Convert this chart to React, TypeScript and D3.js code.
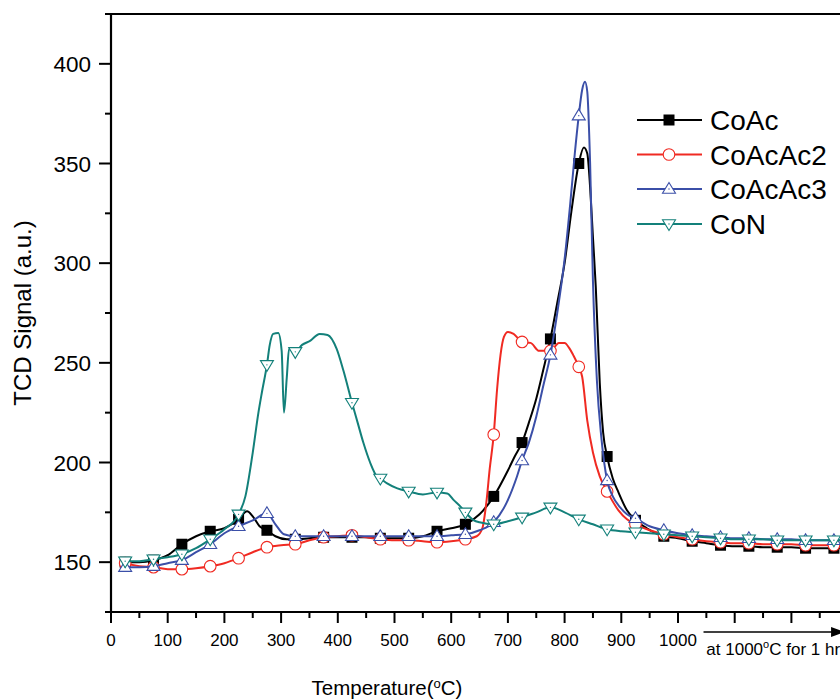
import React from "react";
import * as d3 from "d3";

// temperature (°C) vs TCD signal (a.u.)
const coAc: [number, number][] = [
  [20, 150], [25, 150], [50, 150], [75, 151], [100, 153.5], [125, 159], [150, 163], [175, 165.5],
  [200, 167], [225, 171.5], [240, 175.5], [250, 173], [262, 168], [275, 166], [290, 163], [310, 161.5],
  [325, 161.5], [350, 162], [375, 162.5], [400, 162.5], [425, 162.5], [450, 162.5], [475, 162], [500, 162],
  [525, 162], [550, 163], [575, 165.5], [600, 167], [625, 169], [650, 174], [675, 183], [700, 196],
  [712, 203], [725, 210], [737, 220], [750, 232], [762, 246], [775, 262], [787, 280], [800, 300],
  [812, 326], [825, 350], [834, 358], [840, 355], [845, 338], [850, 313], [855, 288], [862, 240],
  [868, 215], [875, 203], [885, 192], [895, 185], [910, 176], [925, 171], [945, 167], [975, 163],
  [1000, 162], [1025, 160.5], [1050, 159.5], [1075, 158.5], [1100, 158], [1125, 158], [1150, 157.5],
  [1175, 157.5], [1200, 157.5], [1225, 157], [1250, 157], [1275, 157], [1300, 157],
];

const coAcAc2: [number, number][] = [
  [20, 150], [25, 149.5], [50, 148], [75, 147.5], [100, 146.5], [125, 146.5], [150, 147], [175, 148],
  [200, 149.5], [225, 152], [250, 155], [275, 157.5], [300, 158.5], [325, 159], [350, 161], [375, 162.5],
  [400, 163], [425, 163.5], [450, 162.5], [475, 161.5], [500, 161], [525, 161], [550, 160.5], [575, 160],
  [600, 160.5], [625, 161.5], [645, 163], [655, 167], [662, 180], [668, 197], [675, 214], [681, 237],
  [687, 254], [693, 263], [700, 265.5], [710, 264.5], [725, 260.5], [740, 260], [755, 256], [775, 256],
  [790, 260], [800, 260], [808, 257.5], [815, 254], [825, 248], [831, 243], [840, 221], [850, 205],
  [862, 193], [875, 185.5], [895, 176], [910, 171.5], [925, 169], [950, 166], [975, 164], [1000, 162.5],
  [1025, 161.5], [1050, 160.5], [1075, 160], [1100, 159.5], [1125, 159.5], [1150, 159], [1175, 159],
  [1200, 159], [1225, 158.5], [1250, 158.5], [1275, 158.5], [1300, 158.5],
];

const coAcAc3: [number, number][] = [
  [20, 147.5], [25, 147.5], [50, 147.5], [75, 148], [100, 149.5], [125, 151], [150, 155], [175, 159],
  [200, 164.5], [225, 168], [250, 171], [275, 174.5], [290, 169], [305, 164], [325, 163], [350, 163],
  [375, 163], [400, 163], [425, 163], [450, 163], [475, 163], [500, 163], [525, 163], [550, 163],
  [575, 163], [600, 163.5], [625, 164], [650, 166], [675, 170], [698, 180], [716, 193], [725, 201],
  [737, 210], [750, 223], [762, 238], [775, 254], [787, 275], [800, 302], [810, 330], [818, 355],
  [825, 374], [831, 387], [836, 391], [840, 386], [845, 350], [850, 291], [857, 241], [865, 212],
  [875, 191], [885, 183], [898, 177.5], [910, 174], [925, 172], [950, 168], [975, 166], [1000, 164.5],
  [1025, 163.5], [1050, 163], [1075, 162.5], [1100, 162], [1125, 162], [1150, 161.5], [1175, 161.5],
  [1200, 161.5], [1225, 161], [1250, 161], [1275, 161], [1300, 161],
];

const coN: [number, number][] = [
  [20, 150.5], [25, 150.5], [50, 150.5], [75, 151.5], [100, 152.5], [125, 154], [150, 157], [175, 161.5],
  [200, 166.5], [225, 174], [237, 183], [250, 205], [260, 225], [266, 235], [275, 249], [280, 259],
  [286, 264.5], [295, 265], [301, 256], [305, 225], [310, 242.5], [314, 257], [320, 256.5], [325, 255.5],
  [337, 259], [351, 261], [368, 264.5], [382, 264], [398, 257], [410, 246], [425, 230], [435, 220],
  [445, 210], [457, 200], [469, 193], [475, 192], [487, 189.5], [505, 187], [525, 185.5], [550, 184],
  [575, 185], [593, 184.5], [605, 181], [616, 178], [625, 175], [640, 171], [650, 170], [675, 169],
  [700, 170.5], [725, 172.5], [750, 175], [775, 177.5], [800, 175], [825, 171.5], [850, 169], [875, 166.5],
  [900, 165.5], [925, 165], [950, 164.5], [975, 164], [1000, 163.5], [1025, 163], [1050, 162.5], [1075, 162],
  [1100, 161.5], [1125, 161.5], [1150, 161.5], [1175, 161], [1200, 161], [1225, 161], [1250, 161],
  [1275, 161], [1300, 161],
];

const seriesNames = ["CoAc", "CoAcAc2", "CoAcAc3", "CoN"];
const seriesData = [coAc, coAcAc2, coAcAc3, coN];
const seriesColors = ["#000000", "#f02a22", "#3b4fa8", "#13807a"];
const seriesSymbols = ["square", "circle", "triangleUp", "triangleDown"];

const xLabelTicks = [0, 100, 200, 300, 400, 500, 600, 700, 800, 900, 1000];
const yLabelTicks = [150, 200, 250, 300, 350, 400];

const FONT = "'Liberation Sans', Arial, Helvetica, sans-serif";

function Marker({ kind, x, y, color }: { kind: string; x: number; y: number; color: string }) {
  if (kind === "square") {
    return <rect x={x - 5.5} y={y - 5.5} width={11} height={11} fill={color} />;
  }
  if (kind === "circle") {
    return <circle cx={x} cy={y} r={5.8} fill="#fff" stroke={color} strokeWidth={1.1} />;
  }
  const up = kind === "triangleUp";
  const s = 6.5;
  const pts = up
    ? `${x},${y - s} ${x - s},${y + s * 0.65} ${x + s},${y + s * 0.65}`
    : `${x},${y + s} ${x - s},${y - s * 0.65} ${x + s},${y - s * 0.65}`;
  return (
    <g>
      <polygon points={pts} fill="#fff" stroke={color} strokeWidth={1.1} />
      <circle cx={x} cy={y} r={0.7} fill={color} />
    </g>
  );
}

export default function App() {
  const width = 840;
  const height = 700;
  const left = 111;
  const top = 14;
  const bottom = 612;

  const x = d3.scaleLinear().domain([0, 1300]).range([left, left + 1300 * 0.567]);
  const y = d3.scaleLinear().domain([125, 425]).range([bottom, top]);
  const right = x(1300);

  const line = d3
    .line<[number, number]>()
    .x((d) => x(d[0]))
    .y((d) => y(d[1]))
    .curve(d3.curveMonotoneX);

  const xMajor = d3.range(0, 1301, 100);
  const xMinor = d3.range(50, 1300, 100);
  const yMajor = d3.range(150, 401, 50);
  const yMinor = d3.range(125, 426, 50);

  const legendY = [120, 154.5, 189, 224];

  return (
    <svg
      width={width}
      height={height}
      style={{ position: "absolute", left: 0, top: 0, background: "#fff" }}
      fontFamily={FONT}
    >
      <defs>
        <clipPath id="plot">
          <rect x={left} y={top} width={right - left} height={bottom - top} />
        </clipPath>
      </defs>

      {/* series */}
      <g clipPath="url(#plot)">
        {seriesData.map((data, i) => (
          <g key={seriesNames[i]}>
            <path d={line(data) || ""} fill="none" stroke={seriesColors[i]} strokeWidth={2} strokeLinejoin="round" />
            {data
              .filter((d) => (d[0] - 25) % 50 === 0)
              .map((d) => (
                <Marker key={d[0]} kind={seriesSymbols[i]} x={x(d[0])} y={y(d[1])} color={seriesColors[i]} />
              ))}
          </g>
        ))}
      </g>

      {/* frame */}
      <line x1={left} x2={right} y1={top} y2={top} stroke="#000" strokeWidth={2} />
      <line x1={right} x2={right} y1={top} y2={bottom} stroke="#000" strokeWidth={2} />
      <line x1={left} x2={left} y1={top - 1} y2={bottom + 1} stroke="#000" strokeWidth={2.2} />
      <line x1={left - 1} x2={right} y1={bottom} y2={bottom} stroke="#000" strokeWidth={2.2} />

      {/* y ticks */}
      {yMajor.map((v) => (
        <line key={"ym" + v} x1={left - 12} x2={left} y1={y(v)} y2={y(v)} stroke="#000" strokeWidth={2} />
      ))}
      {yMinor.map((v) => (
        <line key={"yn" + v} x1={left - 6} x2={left} y1={y(v)} y2={y(v)} stroke="#000" strokeWidth={2} />
      ))}
      {yLabelTicks.map((v) => (
        <text key={"yl" + v} x={left - 20} y={y(v) + 8} fontSize={22.5} textAnchor="end">
          {v}
        </text>
      ))}

      {/* x ticks */}
      {xMajor.map((v) => (
        <line key={"xm" + v} x1={x(v)} x2={x(v)} y1={bottom} y2={bottom + 11} stroke="#000" strokeWidth={2} />
      ))}
      {xMinor.map((v) => (
        <line key={"xn" + v} x1={x(v)} x2={x(v)} y1={bottom} y2={bottom + 6} stroke="#000" strokeWidth={2} />
      ))}
      {xLabelTicks.map((v) => (
        <text key={"xl" + v} x={x(v)} y={646} fontSize={17} textAnchor="middle">
          {v}
        </text>
      ))}

      {/* hold annotation */}
      <line x1={x(1045)} x2={x(1282)} y1={632} y2={632} stroke="#000" strokeWidth={1.5} />
      <polygon points={`${x(1295)},632 ${x(1270)},627 ${x(1270)},637`} fill="#000" />
      <text x={x(1050)} y={655} fontSize={17}>
        at 1000<tspan dy={-7} fontSize={11}>o</tspan>
        <tspan dy={7}>C for 1 hr</tspan>
      </text>

      {/* axis titles */}
      <text x={387} y={695} fontSize={20.5} textAnchor="middle">
        Temperature(<tspan dy={-7} fontSize={13}>o</tspan>
        <tspan dy={7}>C)</tspan>
      </text>
      <text transform={`translate(31, ${(top + bottom) / 2}) rotate(-90)`} fontSize={24} textAnchor="middle">
        TCD Signal (a.u.)
      </text>

      {/* legend */}
      {seriesNames.map((name, i) => (
        <g key={"lg" + name}>
          <line x1={637} x2={702} y1={legendY[i]} y2={legendY[i]} stroke={seriesColors[i]} strokeWidth={2} />
          <Marker kind={seriesSymbols[i]} x={669} y={legendY[i]} color={seriesColors[i]} />
          <text x={710} y={legendY[i] + 10} fontSize={28}>
            {name}
          </text>
        </g>
      ))}
    </svg>
  );
}
